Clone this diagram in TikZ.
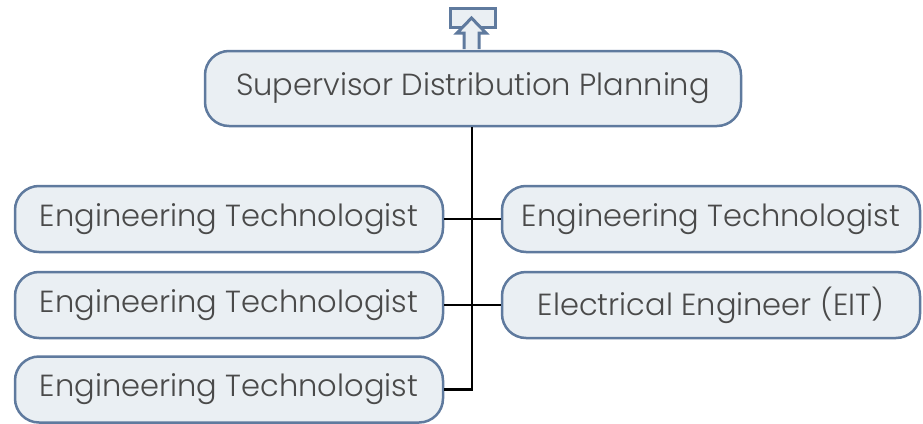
\documentclass[tikz,border=0pt]{standalone}
\usepackage{fontspec}
\setmainfont{Poppins}[UprightFont=* Light]
\usetikzlibrary{positioning}
\definecolor{bordc}{HTML}{5F7A9E}
\definecolor{fillc}{HTML}{EAEFF3}
\definecolor{textc}{HTML}{4A4A4A}
\tikzset{
  role/.style={draw=bordc, fill=fillc, line width=2.5pt, rounded corners=24pt,
    text=textc, font=\fontsize{30.5}{36}\selectfont, inner sep=0pt, anchor=center},
  conn/.style={draw=black, line width=2.5pt}
}
\begin{document}
\begin{tikzpicture}[x=1pt,y=-1pt]
\useasboundingbox (0,0) rectangle (923,423);
\node[role, minimum width=536pt, minimum height=75pt] (sup) at (473,88.5) {Supervisor Distribution Planning};
\node[role, minimum width=428pt, minimum height=66pt] (l1) at (229,219) {Engineering Technologist};
\node[role, minimum width=428pt, minimum height=66pt] (l2) at (229,305) {Engineering Technologist};
\node[role, minimum width=428pt, minimum height=66pt] (l3) at (229,389.5) {Engineering Technologist};
\node[role, minimum width=418pt, minimum height=66pt] (r1) at (711,219) {Engineering Technologist};
\node[role, minimum width=418pt, minimum height=66pt] (r2) at (711,305) {Electrical Engineer (EIT)};
\coordinate (tb) at (472,389.5);
\draw[conn] (sup.south -| tb) -- (tb) -- (l3.east);
\draw[conn] (l1.east) -- (r1.west);
\draw[conn] (l2.east) -- (r2.west);
% icon
\node[draw=bordc, fill=fillc, line width=3pt, minimum width=45pt, minimum height=19pt, inner sep=0pt] (icon) at (472.5,18) {};
\draw[draw=bordc, fill=fillc, line width=3pt, line join=miter]
  (464,49) -- (464,33) -- (457,33) -- (471.5,18) -- (486,33) -- (479,33) -- (479,49);
\end{tikzpicture}
\end{document}
